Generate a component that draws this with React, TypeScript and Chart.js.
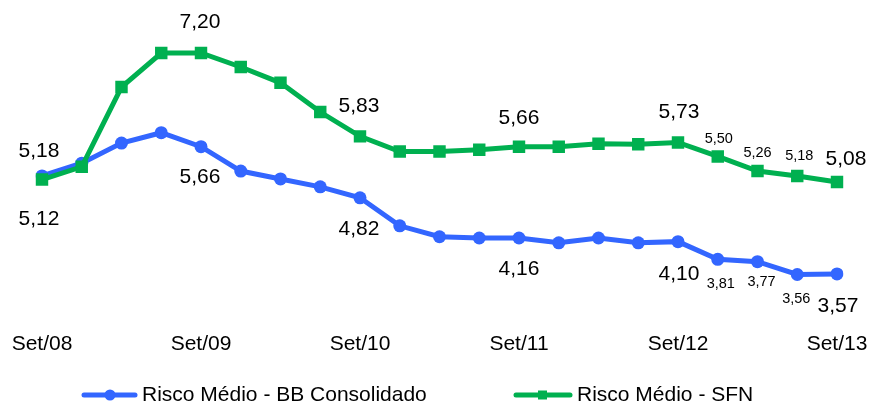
import React, { useEffect, useRef } from 'react';
import { Chart, registerables } from 'chart.js';

Chart.register(...registerables);

const categories = [
  'Set/08', 'Dez/08', 'Mar/09', 'Jun/09', 'Set/09', 'Dez/09', 'Mar/10', 'Jun/10',
  'Set/10', 'Dez/10', 'Mar/11', 'Jun/11', 'Set/11', 'Dez/11', 'Mar/12', 'Jun/12',
  'Set/12', 'Dez/12', 'Mar/13', 'Jun/13', 'Set/13',
];

const riscoBB = [
  5.18, 5.39, 5.72, 5.89, 5.66, 5.26, 5.13, 5.0, 4.82, 4.36, 4.18,
  4.16, 4.16, 4.08, 4.16, 4.08, 4.1, 3.81, 3.77, 3.56, 3.57,
];

const riscoSFN = [
  5.12, 5.33, 6.64, 7.2, 7.2, 6.97, 6.71, 6.23, 5.83, 5.58, 5.58,
  5.61, 5.66, 5.66, 5.71, 5.7, 5.73, 5.5, 5.26, 5.18, 5.08,
];

const seriesNames = ['Risco Médio - BB Consolidado', 'Risco Médio - SFN'];

// which points carry a value label: [index, dx, dy, size]
const bbLabelSpec: [number, number, number, string][] = [
  [0, -3, -25, 'L'], [4, -1, 30.5, 'L'], [8, -1, 31.5, 'L'], [12, 0, 31.5, 'L'],
  [16, 1, 32.5, 'L'], [17, 3, 25, 'S'], [18, 4, 20, 'S'], [19, -1, 25, 'S'], [20, 1, 32, 'L'],
];
const sfnLabelSpec: [number, number, number, string][] = [
  [0, -3, 40, 'L'], [4, -1, -30.5, 'L'], [8, -1, -30, 'L'], [12, 0, -28.5, 'L'],
  [16, 1, -30.5, 'L'], [17, 1, -17, 'S'], [18, 0, -18.5, 'S'], [19, 2, -20, 'S'], [20, 9, -22.5, 'L'],
];

const BLUE = '#3366FF';
const GREEN = '#00B050';
const FONT = '"Liberation Sans", Arial, sans-serif';

const fmt = (v: number) => v.toFixed(2).replace('.', ',');

const valueLabels = {
  id: 'valueLabels',
  afterDatasetsDraw(chart: any) {
    const ctx = chart.ctx;
    const specs = [bbLabelSpec, sfnLabelSpec];
    ctx.save();
    ctx.fillStyle = '#000';
    ctx.textAlign = 'center';
    ctx.textBaseline = 'middle';
    specs.forEach((spec, di) => {
      const meta = chart.getDatasetMeta(di);
      const data = chart.data.datasets[di].data as number[];
      spec.forEach(([i, dx, dy, size]) => {
        const pt = meta.data[i];
        ctx.font = `${size === 'L' ? 21 : 14.5}px ${FONT}`;
        ctx.fillText(fmt(data[i]), pt.x + dx, pt.y + dy);
      });
    });
    ctx.restore();
  },
};

const customLegend = {
  id: 'customLegend',
  afterDraw(chart: any) {
    const ctx = chart.ctx;
    const y = 395;
    ctx.save();
    ctx.strokeStyle = BLUE;
    ctx.lineWidth = 5;
    ctx.lineCap = 'round';
    ctx.beginPath();
    ctx.moveTo(84, y);
    ctx.lineTo(135, y);
    ctx.stroke();
    ctx.fillStyle = BLUE;
    ctx.beginPath();
    ctx.arc(110, y, 5.5, 0, Math.PI * 2);
    ctx.fill();
    ctx.strokeStyle = GREEN;
    ctx.beginPath();
    ctx.moveTo(516, y);
    ctx.lineTo(570, y);
    ctx.stroke();
    ctx.fillStyle = GREEN;
    ctx.fillRect(538, y - 4.5, 9, 9);
    ctx.fillStyle = '#000';
    ctx.font = `21px ${FONT}`;
    ctx.textAlign = 'left';
    ctx.textBaseline = 'middle';
    ctx.fillText(seriesNames[0], 142, y);
    ctx.fillText(seriesNames[1], 577, y);
    ctx.restore();
  },
};

export default function App() {
  const ref = useRef<HTMLCanvasElement | null>(null);
  useEffect(() => {
    if (!ref.current) return;
    const chart = new Chart(ref.current, {
      type: 'line',
      data: {
        labels: categories,
        datasets: [
          {
            label: seriesNames[0],
            data: riscoBB,
            borderColor: BLUE,
            backgroundColor: BLUE,
            borderWidth: 5,
            pointStyle: 'circle',
            pointRadius: 6.5,
            pointBorderWidth: 0,
            pointBackgroundColor: BLUE,
            tension: 0,
            order: 1,
          },
          {
            label: seriesNames[1],
            data: riscoSFN,
            borderColor: GREEN,
            backgroundColor: GREEN,
            borderWidth: 5,
            pointStyle: 'rect',
            pointRadius: 8.8,
            pointBorderWidth: 0,
            pointBackgroundColor: GREEN,
            tension: 0,
            order: 0,
          },
        ],
      },
      options: {
        responsive: false,
        animation: false,
        layout: { autoPadding: false, padding: { top: 4.3, left: 42, right: 32, bottom: 52.4 } },
        plugins: {
          legend: { display: false },
          tooltip: { enabled: false },
        },
        scales: {
          x: {
            type: 'category',
            offset: false,
            grid: { display: false, drawTicks: false },
            border: { display: false },
            ticks: {
              autoSkip: false,
              maxRotation: 0,
              padding: 0,
              color: '#000',
              font: { family: FONT, size: 21 },
              callback: (_v: any, i: number) => (i % 4 === 0 ? categories[i] : ''),
            },
          },
          y: {
            display: false,
            min: 2.625,
            max: 8,
          },
        },
      },
      plugins: [valueLabels, customLegend],
    });
    return () => chart.destroy();
  }, []);
  return (
    <div style={{ position: 'fixed', left: 0, top: 0, width: 869, height: 409, background: '#fff' }}>
      <canvas ref={ref} width={869} height={409} style={{ display: 'block' }} />
    </div>
  );
}
